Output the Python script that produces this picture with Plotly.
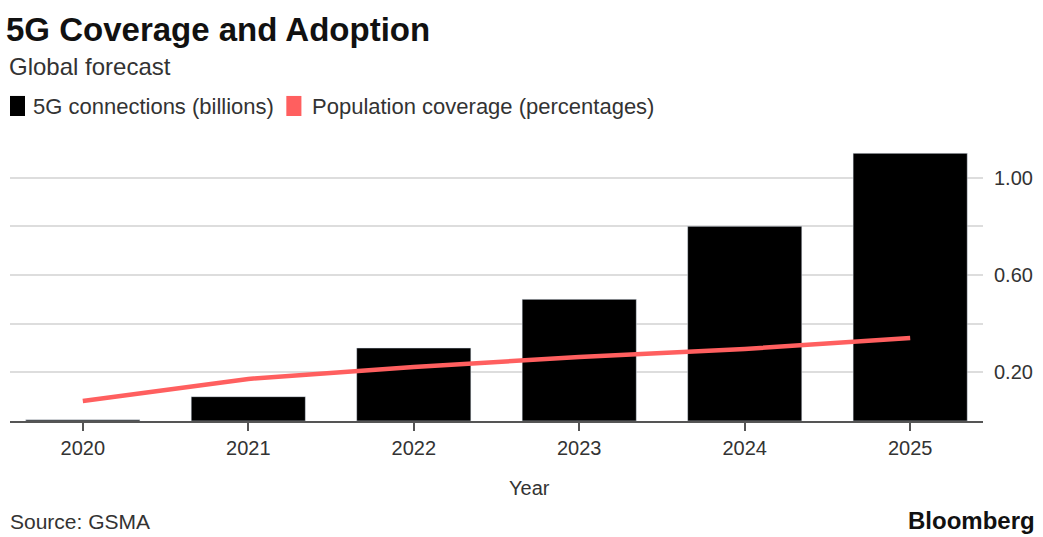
import plotly.graph_objects as go

years = ["2020", "2021", "2022", "2023", "2024", "2025"]
connections = [0.005, 0.10, 0.30, 0.50, 0.80, 1.10]
coverage = [0.082, 0.173, 0.222, 0.263, 0.296, 0.341]
y_tickvals = [0.2, 0.4, 0.6, 0.8, 1.0]
y_ticktext = ["0.20", "", "0.60", "", "1.00"]

FONT = "Liberation Sans, Arial, sans-serif"
RED = "#ff5f5f"

fig = go.Figure()
fig.add_trace(go.Bar(x=years, y=connections, marker_color="black", width=0.69,
                     name="5G connections (billions)", showlegend=False))
fig.add_trace(go.Scatter(x=years, y=coverage, mode="lines", line=dict(color=RED, width=4.5),
                         name="Population coverage (percentages)", showlegend=False))

fig.update_layout(
    width=1043, height=537,
    margin=dict(l=10, r=58, t=146, b=116),
    paper_bgcolor="white", plot_bgcolor="white",
    font=dict(family=FONT, color="#333333"),
    xaxis=dict(range=[-0.44, 5.44], showline=True, linecolor="#555555", linewidth=2,
               ticks="outside", ticklen=8, tickwidth=1.5, tickcolor="#555555",
               tickfont=dict(size=20, color="#333333"), showgrid=False, fixedrange=True),
    yaxis=dict(side="right", range=[0, 1.13], tickvals=y_tickvals, ticktext=y_ticktext,
               showgrid=True, gridcolor="#dddddd", gridwidth=1.5, zeroline=False,
               ticks="", ticklabelstandoff=10,
               tickfont=dict(size=20, color="#333333")),
)

annotations = [
    dict(text="<b>5G Coverage and Adoption</b>", x=-0.006, y=1.422, xanchor="left", yanchor="middle",
         font=dict(size=33, color="#111111")),
    dict(text="Global forecast", x=-0.003, y=1.29, xanchor="left", yanchor="middle",
         font=dict(size=24, color="#333333")),
    dict(text="5G connections (billions)", x=0.0215, y=1.145, xanchor="left", yanchor="middle",
         font=dict(size=22, color="#333333")),
    dict(text="Population coverage (percentages)", x=0.308, y=1.145, xanchor="left", yanchor="middle",
         font=dict(size=22, color="#333333")),
    dict(text="Year", x=0.534, y=-0.2436, xanchor="center", yanchor="middle",
         font=dict(size=20, color="#333333")),
    dict(text="Source: GSMA", x=-0.002, y=-0.367, xanchor="left", yanchor="middle",
         font=dict(size=21, color="#333333")),
    dict(text="<b>Bloomberg</b>", x=1.055, y=-0.418, xanchor="right", yanchor="bottom",
         font=dict(size=24, color="#111111")),
]
for a in annotations:
    a.update(xref="paper", yref="paper", showarrow=False)
fig.update_layout(annotations=annotations)

fig.add_shape(type="rect", xref="paper", yref="paper", x0=0.0, x1=0.0154, y0=1.109, y1=1.182,
              fillcolor="black", line_width=0)
fig.add_shape(type="rect", xref="paper", yref="paper", x0=0.284, x1=0.2995, y0=1.109, y1=1.182,
              fillcolor=RED, line_width=0)

fig.write_html("out.html")
